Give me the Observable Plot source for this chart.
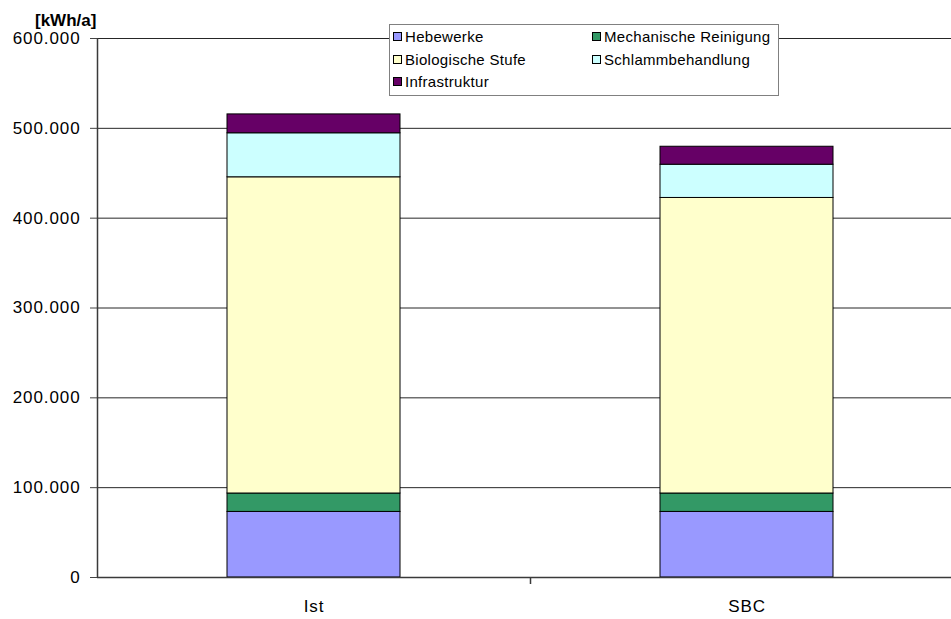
<!DOCTYPE html>
<html>
<head>
<meta charset="utf-8">
<script src="https://cdn.jsdelivr.net/npm/d3@7"></script>
<script src="https://cdn.jsdelivr.net/npm/@observablehq/plot@0.6"></script>
<style>
  html, body { margin: 0; padding: 0; background: #fff; overflow: hidden; }
  #wrap { position: relative; width: 951px; height: 619px; font-family: "Liberation Sans", Arial, sans-serif; }
  #unit { position: absolute; left: 35px; top: 12px; font-size: 17px; line-height: 17px; font-weight: bold; color: #000; }
  #legend { position: absolute; left: 389px; top: 24px; width: 390px; height: 72px; box-sizing: border-box;
            border: 1px solid #808080; background: #fff; font-size: 15px; letter-spacing: 0.3px; color: #000; }
  .item { position: absolute; display: flex; align-items: center; white-space: nowrap; }
  .sw { width: 7px; height: 7px; border: 1px solid #000; margin-right: 3px; }
  svg text { letter-spacing: 0.9px; }
</style>
</head>
<body>
<div id="wrap">
  <div id="chart"></div>
  <div id="unit">[kWh/a]</div>
  <div id="legend"></div>
</div>
<script>
// Scenarios and energy consumption per process stage (kWh/a)
const scenarios = ["Ist", "SBC"];
const stages = ["Hebewerke", "Mechanische Reinigung", "Biologische Stufe", "Schlammbehandlung", "Infrastruktur"];
const colors = ["#9999FF", "#339966", "#FFFFCC", "#CCFFFF", "#660066"];
const hebewerke = [73000, 73000];
const mechanisch = [20500, 20500];
const biologisch = [352000, 329000];
const schlamm = [49000, 37000];
const infrastruktur = [21000, 20000];
const yTicks = [0, 100000, 200000, 300000, 400000, 500000, 600000];

const series = [hebewerke, mechanisch, biologisch, schlamm, infrastruktur];
const rows = [];
scenarios.forEach((s, i) => {
  stages.forEach((st, j) => rows.push({scenario: s, stage: st, value: series[j][i]}));
});

const fmt = d => d3.format(",")(d).replace(/,/g, ".");

// the category band runs slightly past the right edge of the page
const x0 = 97, x1 = 963;
const padInner = 0.6;

// axis lines and category separators, drawn from the scales
function axisLines(index, scales, values, dims) {
  const yTop = scales.y(600000), yBase = scales.y(0);
  const bw = typeof scales.x.bandwidth === "function" ? scales.x.bandwidth() : scales.x.bandwidth;
  const st = bw / (1 - padInner);
  let d = `M${x0 + 0.5},${yTop}V${yBase}`;
  d += `M${x0},${yBase + 0.5}H${dims.width}`;
  scenarios.forEach(s => {
    const xs = Math.round(scales.x(s) + bw / 2 + st / 2) + 0.5;
    d += `M${xs},${yBase}V${yBase + 7}`;
  });
  const g = d3.create("svg:g");
  g.append("path").attr("d", d).attr("fill", "none").attr("stroke", "#3a3a3a").attr("stroke-width", 1.5);
  return g.node();
}

const chart = Plot.plot({
  width: 951,
  height: 619,
  marginLeft: 97,
  marginRight: 0,
  marginTop: 38,
  marginBottom: 42,
  style: {fontFamily: "Liberation Sans, Arial, sans-serif", fontSize: "17px", color: "#000", background: "#fff"},
  x: {domain: scenarios, range: [x0, x1], paddingInner: padInner, paddingOuter: 0.3, label: null},
  y: {domain: [0, 600000], label: null},
  color: {domain: stages, range: colors},
  marks: [
    Plot.gridY(yTicks, {stroke: "#000", strokeOpacity: 0.85, strokeWidth: 1}),
    Plot.barY(rows, Plot.stackY({x: "scenario", y: "value", fill: "stage", stroke: "#000", strokeWidth: 1, order: null})),
    Plot.axisY(yTicks, {tickFormat: fmt, tickSize: 7, tickPadding: 10, stroke: "#444", fontSize: 17}),
    Plot.axisX({tickSize: 0, tickPadding: 22, fontSize: 17}),
    axisLines
  ]
});
document.getElementById("chart").appendChild(chart);

// legend: two columns, filled row by row
const legend = document.getElementById("legend");
stages.forEach((st, i) => {
  const col = i % 2, row = Math.floor(i / 2);
  const el = document.createElement("div");
  el.className = "item";
  el.style.left = (col === 0 ? 3 : 202) + "px";
  el.style.top = (3 + row * 22.5) + "px";
  el.innerHTML = `<span class="sw" style="background:${colors[i]}"></span><span>${st}</span>`;
  legend.appendChild(el);
});
</script>
</body>
</html>
